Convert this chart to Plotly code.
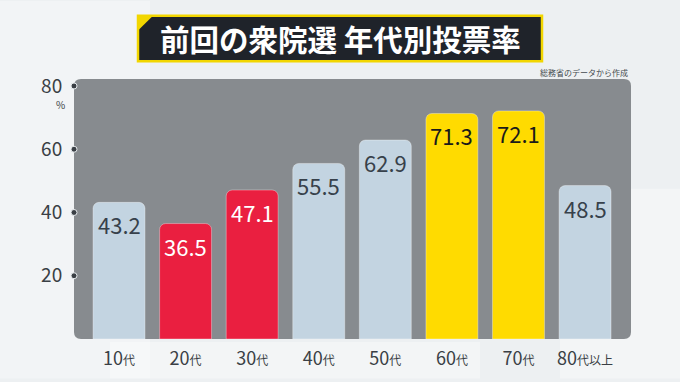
import plotly.graph_objects as go

# ---- data ----
categories = ["10代", "20代", "30代", "40代", "50代", "60代", "70代", "80代以上"]
turnout = [43.2, 36.5, 47.1, 55.5, 62.9, 71.3, 72.1, 48.5]
group = ["mid", "young", "young", "mid", "mid", "high", "high", "mid"]
y_ticks = [20, 40, 60, 80]
title_text = "前回の衆院選 年代別投票率"
source_text = "総務省のデータから作成"

# ---- style ----
W, H = 680, 382
L, R, T, B = 74, 631, 79, 342
bar_colors = {"mid": "#c3d4e1", "young": "#ea1f40", "high": "#ffdb00"}
text_colors = {"mid": "#37414b", "young": "#ffffff", "high": "#1a1a1a"}
FONT = "Noto Sans CJK JP"
DARK = "#3a3f45"


def px(x):
    return (x - L) / (R - L)


def py(y):
    return (B - y) / (B - T)


x_idx = list(range(len(categories)))


def tick_label(c):
    num = "".join(ch for ch in c if ch.isdigit())
    rest = c[len(num):]
    return f"{num}<span style='font-size:12px'>{rest}</span>"


fig = go.Figure()
fig.add_bar(
    x=x_idx,
    y=turnout,
    width=0.78,
    marker=dict(color=[bar_colors[g] for g in group],
                line=dict(color="rgba(255,255,255,0.35)", width=1)),
    hoverinfo="skip",
)

# tick dots on left edge of the panel
fig.add_scatter(
    x=[-0.676] * len(y_ticks), y=y_ticks, mode="markers",
    marker=dict(size=6, color=DARK, line=dict(color="#e8ecef", width=1)),
    cliponaxis=False, hoverinfo="skip", showlegend=False,
)

# value labels
for i, v in enumerate(turnout):
    fig.add_annotation(
        x=i, y=v, yanchor="top", yshift=-4, showarrow=False,
        text=f"{v:.1f}",
        font=dict(family=FONT, size=22, color=text_colors[group[i]]),
    )

# rounded gray panel
rx, ry = 7 / (R - L), 7 / (B - T)
panel = (f"M {rx} 0 L {1-rx} 0 Q 1 0 1 {ry} L 1 {1-ry} Q 1 1 {1-rx} 1 "
         f"L {rx} 1 Q 0 1 0 {1-ry} L 0 {ry} Q 0 0 {rx} 0 Z")
shapes = [
    # faint background panels
    dict(type="rect", xref="paper", yref="paper", x0=px(0), x1=px(150), y0=py(382), y1=py(0),
         fillcolor="rgba(255,255,255,0.30)", line_width=0, layer="below"),
    dict(type="rect", xref="paper", yref="paper", x0=px(560), x1=px(680), y0=py(382), y1=py(190),
         fillcolor="rgba(255,255,255,0.35)", line_width=0, layer="below"),
    dict(type="rect", xref="paper", yref="paper", x0=px(110), x1=px(480), y0=py(382), y1=py(345),
         fillcolor="rgba(255,255,255,0.35)", line_width=0, layer="below"),
    dict(type="path", xref="paper", yref="paper", path=panel,
         fillcolor="#878b8f", line_width=0, layer="below"),
    # title box
    dict(type="rect", xref="paper", yref="paper", x0=px(138), x1=px(542), y0=py(61), y1=py(15),
         fillcolor="#1f232a", line=dict(color="#f2d600", width=2.5), layer="above"),
    dict(type="path", xref="paper", yref="paper",
         path=f"M {px(138)} {py(15)} L {px(153)} {py(15)} L {px(138)} {py(30)} Z",
         fillcolor="#f2d600", line_width=0, layer="above"),
]

annotations = [
    dict(xref="paper", yref="paper", x=px(340), y=py(38), text=f"<b>{title_text}</b>",
         showarrow=False, font=dict(family=FONT, size=29.5, color="#ffffff"),
         xanchor="center", yanchor="middle"),
    dict(xref="paper", yref="paper", x=px(630), y=py(72), text=source_text,
         showarrow=False, font=dict(family=FONT, size=8, color="#444a50"),
         xanchor="right", yanchor="middle"),
    dict(xref="paper", yref="paper", x=px(60), y=py(105), text="%",
         showarrow=False, font=dict(family=FONT, size=10, color=DARK),
         xanchor="center", yanchor="middle"),
]
for a in annotations:
    fig.add_annotation(**a)

fig.update_layout(
    width=W, height=H,
    margin=dict(l=L, r=W - R, t=T, b=H - B),
    paper_bgcolor="#edf0f2",
    plot_bgcolor="rgba(0,0,0,0)",
    showlegend=False,
    barcornerradius=6,
    shapes=shapes,
    font=dict(family=FONT, color=DARK),
    xaxis=dict(
        range=[-0.676, 7.69], tickvals=x_idx,
        ticktext=[tick_label(c) for c in categories],
        showgrid=False, zeroline=False, showline=False,
        ticks="outside", ticklen=3, tickcolor="rgba(0,0,0,0)",
        tickfont=dict(family=FONT, size=18, color=DARK),
    ),
    yaxis=dict(
        range=[0, 82.2], tickvals=y_ticks, ticktext=[str(t) for t in y_ticks],
        showgrid=False, zeroline=False, showline=False,
        ticks="outside", ticklen=7, tickcolor="rgba(0,0,0,0)",
        tickfont=dict(family=FONT, size=19, color=DARK),
    ),
)

fig.write_html(
    "out.html",
    config={"displayModeBar": False},
    post_script="document.body.style.margin='0';document.body.style.background='#edf0f2';",
)
